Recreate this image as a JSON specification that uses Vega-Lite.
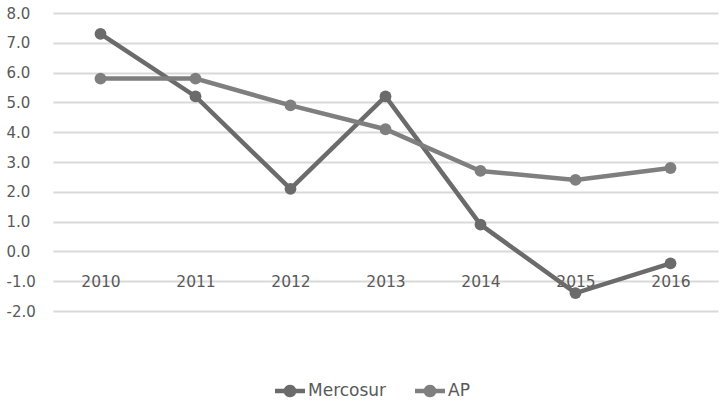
{
  "$schema": "https://vega.github.io/schema/vega-lite/v6.json",
  "autosize": "none",
  "width": 665,
  "height": 298,
  "padding": {"left": 53, "top": 13, "right": 3, "bottom": 93},
  "background": "white",
  "config": {
    "view": {"stroke": null},
    "font": "DejaVu Sans",
    "axis": {"labelFont": "DejaVu Sans", "labelColor": "#595959", "labelFontSize": 15}
  },
  "data": {
    "values": [
      {"year": "2010", "series": "Mercosur", "value": 7.3},
      {"year": "2011", "series": "Mercosur", "value": 5.2},
      {"year": "2012", "series": "Mercosur", "value": 2.1},
      {"year": "2013", "series": "Mercosur", "value": 5.2},
      {"year": "2014", "series": "Mercosur", "value": 0.9},
      {"year": "2015", "series": "Mercosur", "value": -1.4},
      {"year": "2016", "series": "Mercosur", "value": -0.4},
      {"year": "2010", "series": "AP", "value": 5.8},
      {"year": "2011", "series": "AP", "value": 5.8},
      {"year": "2012", "series": "AP", "value": 4.9},
      {"year": "2013", "series": "AP", "value": 4.1},
      {"year": "2014", "series": "AP", "value": 2.7},
      {"year": "2015", "series": "AP", "value": 2.4},
      {"year": "2016", "series": "AP", "value": 2.8}
    ]
  },
  "mark": {"type": "line", "strokeWidth": 4.5, "point": {"size": 140, "filled": true, "opacity": 1}},
  "encoding": {
    "x": {
      "field": "year", "type": "ordinal", "title": null,
      "scale": {"type": "point", "padding": 0.5},
      "axis": {"orient": "bottom", "offset": -30, "domain": false, "ticks": false, "labelAngle": 0, "labelBaseline": "middle", "labelPadding": 0, "grid": false, "labelFontSize": 15.5}
    },
    "y": {
      "field": "value", "type": "quantitative", "title": null,
      "scale": {"domain": [-2, 8], "nice": false},
      "axis": {"values": [-2, -1, 0, 1, 2, 3, 4, 5, 6, 7, 8], "labelExpr": "replace(format(datum.value, '.1f'), '\u2212', '-')", "domain": false, "ticks": false, "labelAlign": "left", "labelPadding": 47, "gridColor": "#d9d9d9", "gridWidth": 2}
    },
    "color": {
      "field": "series", "type": "nominal", "sort": ["Mercosur", "AP"], "title": null,
      "scale": {"domain": ["Mercosur", "AP"], "range": ["#6b6b6b", "#7f7f7f"]},
      "legend": {
        "orient": "none", "legendX": 222, "legendY": 363, "direction": "horizontal",
        "symbolType": "M-1,-0.15 L-0.4,-0.15 A0.43,0.43 0 0 1 0.4,-0.15 L1,-0.15 L1,0.15 L0.4,0.15 A0.43,0.43 0 0 1 -0.4,0.15 L-1,0.15 Z",
        "symbolSize": 900, "symbolStrokeWidth": 0, "symbolFillColor": {"expr": "null"},
        "labelFontSize": 17, "labelColor": "#595959", "labelFont": "DejaVu Sans", "columnPadding": 28, "labelOffset": 3
      }
    },
    "order": {"field": "series"}
  }
}
